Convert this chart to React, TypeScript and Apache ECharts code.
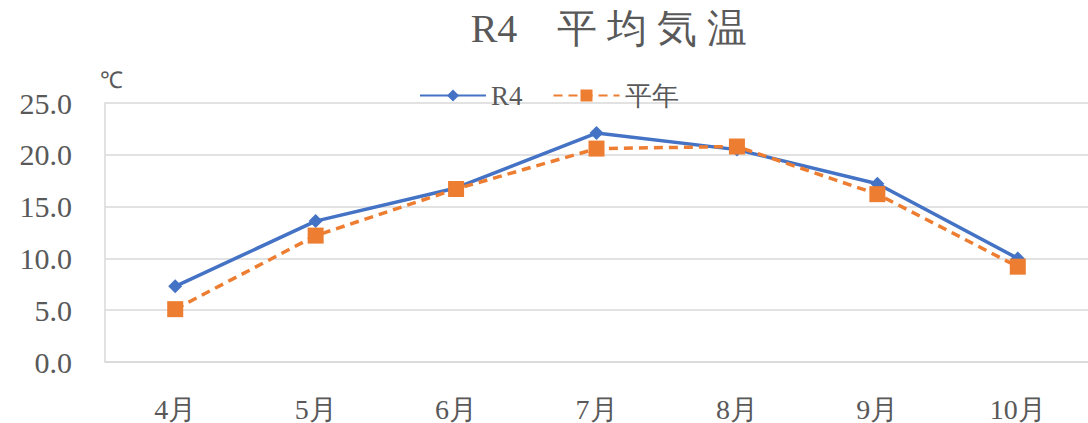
import React, { useEffect, useRef } from "react";
import * as echarts from "echarts";

const categories = ["4月", "5月", "6月", "7月", "8月", "9月", "10月"];
const r4Values = [7.3, 13.6, 16.8, 22.1, 20.5, 17.2, 10.0];
const normalValues = [5.1, 12.2, 16.7, 20.6, 20.8, 16.2, 9.2];
const yTicks = [0, 5, 10, 15, 20, 25];

const FONT = "Liberation Serif";

export default function App() {
  const ref = useRef<HTMLDivElement>(null);
  useEffect(() => {
    if (!ref.current) return;
    const chart = echarts.init(ref.current, null, { renderer: "svg" });
    chart.setOption({
      animation: false,
      backgroundColor: "#ffffff",
      title: {
        text: "R4　平 均 気 温",
        left: 604,
        textAlign: "center",
        top: 3,
        textStyle: { fontFamily: FONT, fontSize: 40, fontWeight: "normal", color: "#595959" },
      },
      legend: {
        left: 414,
        top: 77,
        itemWidth: 66,
        itemHeight: 15,
        itemGap: 30,
        textStyle: { fontFamily: FONT, fontSize: 27, color: "#595959", padding: [0, 0, 0, 0] },
        data: ["R4", "平年"],
      },
      graphic: [
        {
          type: "text",
          left: 100,
          top: 69,
          style: { text: "℃", fontFamily: FONT, fontSize: 23, fill: "#595959" },
        },
      ],
      grid: { left: 105, top: 103, width: 994, height: 260 },
      xAxis: {
        type: "category",
        data: categories,
        boundaryGap: true,
        axisLine: { show: true, lineStyle: { color: "#d9d9d9", width: 1.5 } },
        axisTick: { show: false },
        axisLabel: { fontFamily: FONT, fontSize: 28, color: "#595959", margin: 33 },
      },
      yAxis: {
        type: "value",
        min: yTicks[0],
        max: yTicks[yTicks.length - 1],
        interval: 5,
        axisLine: { show: true, lineStyle: { color: "#d9d9d9", width: 1.5 } },
        axisTick: { show: false },
        splitLine: { lineStyle: { color: "#d9d9d9", width: 1.5 } },
        axisLabel: {
          fontFamily: FONT,
          fontSize: 30,
          color: "#595959",
          margin: 33,
          formatter: (v: number) => v.toFixed(1),
        },
      },
      series: [
        {
          name: "R4",
          type: "line",
          data: r4Values,
          symbol: "diamond",
          symbolSize: 14,
          lineStyle: { color: "#4472C4", width: 3.5 },
          itemStyle: { color: "#4472C4" },
          z: 3,
        },
        {
          name: "平年",
          type: "line",
          data: normalValues,
          symbol: "rect",
          symbolSize: 16,
          lineStyle: { color: "#ED7D31", width: 3.5, type: [9, 6] },
          itemStyle: { color: "#ED7D31" },
          z: 4,
        },
      ],
    });
    return () => chart.dispose();
  }, []);
  return (
    <div
      ref={ref}
      style={{ position: "absolute", left: 0, top: 0, width: 1088, height: 423 }}
    />
  );
}
